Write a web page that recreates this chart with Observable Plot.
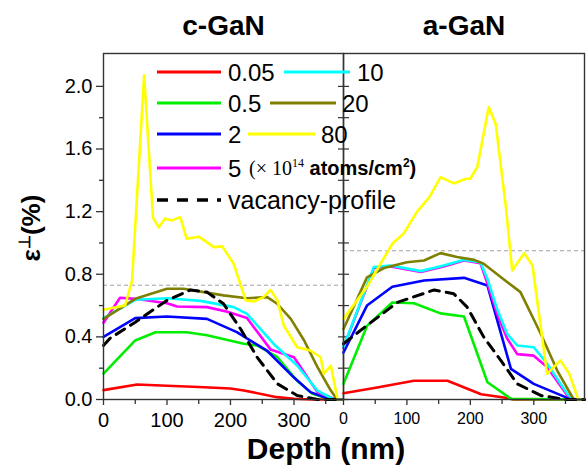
<!DOCTYPE html>
<html>
<head>
<meta charset="utf-8">
<script src="https://cdn.jsdelivr.net/npm/d3@7"></script>
<script src="https://cdn.jsdelivr.net/npm/@observablehq/plot@0.6"></script>
<style>
  body { margin: 0; background: #fff; }
  #chart { position: relative; width: 587px; height: 466px; font-family: "Liberation Sans", Arial, Helvetica, sans-serif; }
  #chart svg { position: absolute; top: 0; overflow: visible; }
</style>
</head>
<body>
<div id="chart"></div>
<script>
const FONT = "'Liberation Sans', Arial, Helvetica, sans-serif";
const SERIF = "'Liberation Serif', 'Times New Roman', serif";

// ---- categories / labels ----
const panelTitles = ["c-GaN", "a-GaN"];
const doseLabels = ["0.05", "0.5", "2", "5", "10", "20", "80"];
const doseColors = ["#ff0000", "#00ee00", "#0000ff", "#ff00ff", "#00ffff", "#808000", "#ffff00"];
const vacancyLabel = "vacancy-profile";
const refLevels = [0.73, 0.95];       // thin grey dashed reference lines
const xTicks = [0, 100, 200, 300];
const xMinor = [50, 150, 250, 350];
const yTicks = [0, 0.4, 0.8, 1.2, 1.6, 2.0];
const yMinor = [0.2, 0.6, 1.0, 1.4, 1.8];
const yEdgeTicks = [0, 0.2, 0.4, 0.6, 0.8, 1.0, 1.2, 1.4, 1.6, 1.8, 2.0];

// ---- c-GaN series: [depth nm, strain %] ----
const c005 = [[0,0.06],[53,0.096],[100,0.088],[150,0.08],[200,0.07],[221,0.058],[273,0.015],[300,0.005],[330,0],[376,0]];
const c05  = [[0,0.165],[50,0.377],[82,0.43],[131,0.43],[163,0.41],[221,0.356],[242,0.345],[274,0.27],[305,0.12],[329,0.036],[358,0],[376,0]];
const c2   = [[0,0.40],[50,0.52],[100,0.53],[163,0.515],[210,0.43],[258,0.31],[300,0.14],[326,0.047],[347,0.015],[366,0],[376,0]];
const c5   = [[0,0.49],[26,0.65],[50,0.643],[100,0.615],[116,0.594],[163,0.59],[195,0.56],[226,0.52],[263,0.32],[300,0.27],[337,0.047],[366,0],[376,0]];
const c10  = [[0,0.52],[50,0.637],[100,0.647],[153,0.63],[205,0.59],[226,0.547],[268,0.355],[305,0.217],[337,0.057],[363,0],[376,0]];
const c20  = [[0,0.515],[50,0.643],[100,0.707],[126,0.707],[189,0.665],[226,0.647],[258,0.654],[274,0.61],[295,0.515],[316,0.377],[337,0.207],[358,0.057],[368,0],[376,0]];
const c80  = [[0,0.573],[34,0.60],[45,0.76],[64,2.07],[78,1.16],[87,1.10],[97,1.155],[108,1.144],[121,1.165],[131,1.027],[150,1.04],[174,0.973],[187,0.978],[205,0.867],[224,0.633],[237,0.626],[252,0.654],[263,0.70],[274,0.633],[284,0.473],[305,0.334],[326,0.313],[342,0.27],[347,0.164],[358,0.217],[368,0.015]];
const cVac = [[0,0.345],[10,0.39],[50,0.494],[100,0.633],[137,0.70],[163,0.686],[189,0.611],[216,0.45],[242,0.27],[274,0.10],[305,0.026],[337,0],[376,0]];

// ---- a-GaN series ----
const a005 = [[0,0.04],[53,0.077],[111,0.12],[164,0.12],[217,0.034],[258,0.01],[268,0],[380,0]];
const a05  = [[0,0.10],[37,0.47],[77,0.62],[111,0.615],[153,0.55],[190,0.53],[227,0.11],[264,0.004],[380,0]];
const a2   = [[0,0.30],[37,0.60],[77,0.72],[127,0.76],[190,0.777],[227,0.728],[264,0.196],[300,0.10],[350,0.015],[362,0],[380,0]];
const a5   = [[0,0.33],[48,0.84],[74,0.85],[122,0.815],[158,0.85],[190,0.888],[216,0.87],[227,0.74],[242,0.55],[258,0.39],[274,0.29],[300,0.28],[321,0.207],[353,0.026],[365,0],[380,0]];
const a10  = [[0,0.334],[48,0.846],[74,0.856],[122,0.82],[158,0.856],[190,0.892],[216,0.877],[227,0.77],[242,0.58],[258,0.42],[274,0.345],[300,0.334],[321,0.228],[353,0.036],[363,0],[380,0]];
const a20  = [[0,0.45],[37,0.78],[64,0.84],[100,0.877],[127,0.888],[153,0.935],[179,0.91],[206,0.892],[221,0.867],[258,0.75],[279,0.686],[311,0.42],[337,0.185],[363,0],[380,0]];
const a80  = [[0,0.515],[37,0.72],[77,0.995],[95,1.06],[116,1.20],[135,1.29],[153,1.42],[174,1.38],[193,1.41],[200,1.41],[211,1.485],[229,1.868],[240,1.76],[256,1.23],[266,0.824],[285,0.935],[298,0.856],[321,0.164],[342,0.25],[356,0.164],[369,0.015]];
const aVac = [[0,0.356],[37,0.473],[85,0.62],[143,0.70],[174,0.675],[195,0.59],[221,0.40],[248,0.25],[274,0.10],[311,0.026],[350,0],[380,0]];

const cSeries = [c005, c05, c2, c5, c10, c20, c80];
const aSeries = [a005, a05, a2, a5, a10, a20, a80];

function panel({title, series, vac, ref, width, marginLeft, marginRight, xMax, isLeft}) {
  const marks = [
    Plot.ruleY([ref], {stroke: "#a0a0a0", strokeWidth: 1, strokeDasharray: "4,3"})
  ];
  series.forEach((s, k) => marks.push(
    Plot.line(s, {x: d => d[0], y: d => d[1], stroke: doseColors[k], strokeWidth: 2.6, strokeLinejoin: "round"})
  ));
  marks.push(Plot.line(vac, {x: d => d[0], y: d => d[1], stroke: "#000", strokeWidth: 3, strokeDasharray: "10,7"}));
  marks.push(Plot.frame({stroke: "#333", strokeWidth: 1.4}));
  marks.push(Plot.text([title], {text: d => d, frameAnchor: "top", dy: -27, lineAnchor: "middle",
    fontSize: 28, fontWeight: "bold", fill: "#000"}));
  const fs = isLeft ? 20 : 16;
  marks.push(Plot.axisX(xTicks, {anchor: "bottom", tickSize: 6, tickPadding: 7, fontSize: fs, label: null, strokeWidth: 1.3, stroke: "#333"}));
  marks.push(Plot.axisX(xMinor, {anchor: "bottom", tickSize: 5, tickFormat: () => "", label: null, strokeWidth: 1.3, stroke: "#333"}));
  if (isLeft) {
    marks.push(Plot.axisY(yTicks, {anchor: "left", tickSize: 7, tickPadding: 4, fontSize: 20,
      tickFormat: d3.format(".1f"), label: null, strokeWidth: 1.3, stroke: "#333"}));
    marks.push(Plot.axisY(yMinor, {anchor: "left", tickSize: 4, tickFormat: () => "", label: null, strokeWidth: 1.3, stroke: "#333"}));
    marks.push(Plot.axisY(yEdgeTicks, {anchor: "right", tickSize: 5, tickFormat: () => "", label: null, strokeWidth: 1.2, stroke: "#333"}));
  } else {
    marks.push(Plot.axisY(yEdgeTicks, {anchor: "left", tickSize: 5, tickFormat: () => "", label: null, strokeWidth: 1.2, stroke: "#333"}));
  }
  return Plot.plot({
    width, height: 466, marginTop: 53, marginBottom: 67, marginLeft, marginRight,
    x: {domain: [0, xMax]},
    y: {domain: [0, 2.21]},
    style: {background: "none", overflow: "visible", fontFamily: FONT, color: "#000"},
    marks
  });
}

const chart = document.getElementById("chart");
const left = panel({title: panelTitles[0], series: cSeries, vac: cVac, ref: refLevels[0],
  width: 343, marginLeft: 103, marginRight: 0, xMax: 378, isLeft: true});
const right = panel({title: panelTitles[1], series: aSeries, vac: aVac, ref: refLevels[1],
  width: 244, marginLeft: 0, marginRight: 3, xMax: 380, isLeft: false});
left.style.left = "0px";
right.style.left = "343px";
chart.appendChild(left);
chart.appendChild(right);

// ---- overlay: legend, axis titles ----
const ov = d3.create("svg").attr("width", 587).attr("height", 466)
  .attr("font-family", FONT).style("left", "0px").style("pointer-events", "none");

// Axis titles
const yl = ov.append("text").attr("transform", "translate(40,228) rotate(-90)")
  .attr("text-anchor", "middle").attr("font-size", 26).attr("font-weight", "bold");
yl.append("tspan").text("ε");
yl.append("tspan").attr("dy", -10).attr("font-size", 16).text("⊥");
yl.append("tspan").attr("dy", 10).text("(%)");

ov.append("text").attr("x", 326).attr("y", 459).attr("text-anchor", "middle")
  .attr("font-size", 30).attr("font-weight", "bold").text("Depth (nm)");

// Legend layout (index into doseLabels/doseColors)
const legendLayout = [
  {k: 0, x1: 157, x2: 221, tx: 228, y: 72},
  {k: 4, x1: 284, x2: 350, tx: 357, y: 72},
  {k: 1, x1: 157, x2: 221, tx: 228, y: 103},
  {k: 5, x1: 270, x2: 336, tx: 342, y: 103},
  {k: 2, x1: 157, x2: 221, tx: 228, y: 134},
  {k: 6, x1: 248, x2: 315, tx: 321, y: 134},
  {k: 3, x1: 157, x2: 221, tx: 228, y: 168}
];
legendLayout.forEach(e => {
  ov.append("line").attr("x1", e.x1).attr("x2", e.x2).attr("y1", e.y).attr("y2", e.y)
    .attr("stroke", doseColors[e.k]).attr("stroke-width", 3.2);
  ov.append("text").attr("x", e.tx).attr("y", e.y + 8.5).attr("font-size", 24).text(doseLabels[e.k]);
});
// units note after "5"
const un = ov.append("text").attr("x", 249).attr("y", 168 + 7).attr("font-size", 20);
un.append("tspan").attr("font-family", SERIF).text("(× 10");
un.append("tspan").attr("font-family", SERIF).attr("font-size", 12).attr("dy", -8).text("14");
un.append("tspan").attr("dy", 8).attr("font-weight", "bold").text(" atoms/cm");
un.append("tspan").attr("font-size", 12).attr("dy", -8).attr("font-weight", "bold").text("2");
un.append("tspan").attr("dy", 8).attr("font-weight", "bold").text(")");
// vacancy
ov.append("line").attr("x1", 157).attr("x2", 221).attr("y1", 200).attr("y2", 200)
  .attr("stroke", "#000").attr("stroke-width", 3.5).attr("stroke-dasharray", "11,9");
ov.append("text").attr("x", 228).attr("y", 200 + 8.5).attr("font-size", 25).text(vacancyLabel);

chart.appendChild(ov.node());
</script>
</body>
</html>
